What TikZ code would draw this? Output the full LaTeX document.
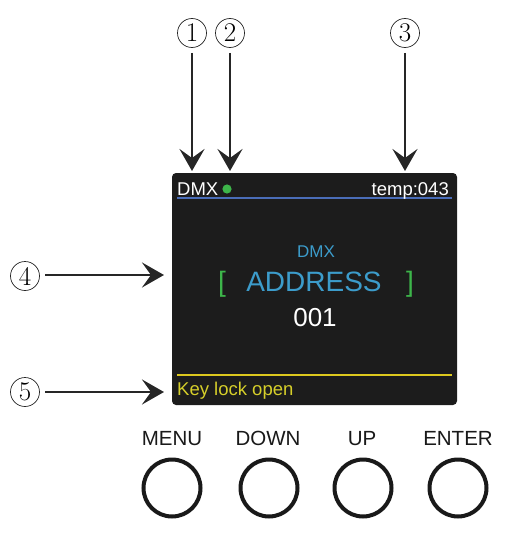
\documentclass[tikz,border=0pt]{standalone}
\usepackage{fontspec}
\newfontfamily\arial{Liberation Sans}
\usetikzlibrary{arrows.meta}
\definecolor{scr}{HTML}{1C1C1C}
\definecolor{lblue}{HTML}{3C9CCB}
\definecolor{lgreen}{HTML}{3DB54A}
\definecolor{lyellow}{HTML}{D6CF2A}
\definecolor{lineblue}{HTML}{4A6DB8}
\definecolor{lineyellow}{HTML}{DCC81E}
\tikzset{
  num/.style={circle,draw=black!85,line width=0.7pt,minimum size=29pt,inner sep=0pt,font=\fontsize{27}{27}\selectfont},
  callout/.style={line width=2.6pt,draw=black!85,-{Stealth[length=22pt,width=25pt,inset=9pt]}},
  btn/.style={circle,draw=black!90,line width=4pt,minimum size=57pt,inner sep=0pt},
  btnlabel/.style={anchor=base,inner sep=0pt,text=black!90,font=\arial\fontsize{20.5}{22}\selectfont},
  scrtext/.style={inner sep=0pt,font=\arial\fontsize{18.5}{20}\selectfont}
}
\begin{document}
\begin{tikzpicture}[x=1pt,y=-1pt]
\useasboundingbox (0,0) rectangle (520,535);
% screen
\node[fill=scr,rounded corners=4pt,minimum width=285pt,minimum height=232pt,inner sep=0pt] (screen) at (314.5,289) {};
\draw[lineblue,line width=1.6pt] (177,198) -- (452,198);
\draw[lineyellow,line width=1.6pt] (177,375) -- (452,375);
\node[scrtext,anchor=base west,text=white] (dmx) at (177,195) {DMX};
\fill[lgreen] (227,189) circle (4.6pt);
\node[scrtext,anchor=base east,text=white] (temp) at (449,195) {temp:043};
\node[inner sep=0pt,anchor=base,text=lblue,font=\arial\fontsize{17}{18}\selectfont] (dmx2) at (316,257) {DMX};
\node[inner sep=0pt,anchor=base,text=lblue,font=\arial\fontsize{28}{30}\selectfont] (addr) at (314,291) {ADDRESS};
\node[inner sep=0pt,anchor=base,text=lgreen,font=\arial\fontsize{28}{30}\selectfont] (lb) at (222,291) {[};
\node[inner sep=0pt,anchor=base,text=lgreen,font=\arial\fontsize{28}{30}\selectfont] (rb) at (410,291) {]};
\node[inner sep=0pt,anchor=base,text=white,font=\arial\fontsize{26}{28}\selectfont] (val) at (315,326) {001};
\node[scrtext,anchor=base west,text=lyellow] (key) at (177,395) {Key lock open};
% callouts
\node[num] (n1) at (192,33) {1};
\node[num] (n2) at (230,33) {2};
\node[num] (n3) at (405,33) {3};
\node[num] (n4) at (25,276) {4};
\node[num] (n5) at (25,392) {5};
\coordinate (t1) at (192,171);
\coordinate (t2) at (230,171);
\coordinate (t3) at (405,171);
\coordinate (t4) at (164,275);
\coordinate (t5) at (164,392);
\draw[callout] (192,53) -- (t1);
\draw[callout] (230,53) -- (t2);
\draw[callout] (405,53) -- (t3);
\draw[callout] (45,275) -- (t4);
\draw[callout] (45,392) -- (t5);
% buttons
\node[btnlabel] (lmenu) at (172,445) {MENU};
\node[btnlabel] (ldown) at (268,445) {DOWN};
\node[btnlabel] (lup) at (362,445) {UP};
\node[btnlabel] (lenter) at (458,445) {ENTER};
\node[btn] (bmenu) at (172,488) {};
\node[btn] (bdown) at (269,488) {};
\node[btn] (bup) at (363,488) {};
\node[btn] (benter) at (458,488) {};
\end{tikzpicture}
\end{document}
